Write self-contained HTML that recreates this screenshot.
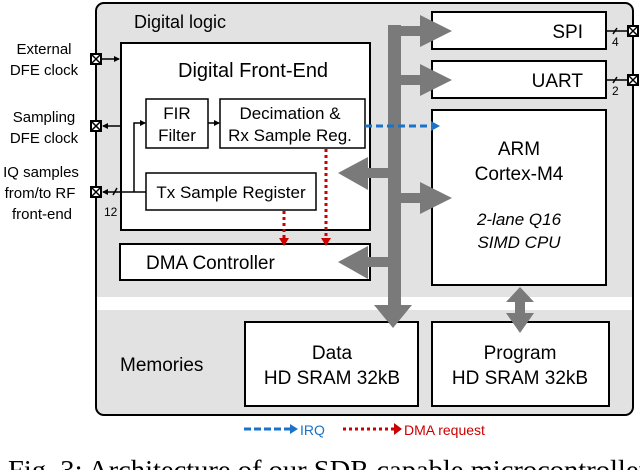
<!DOCTYPE html>
<html><head><style>
body{margin:0;background:#fff;}
svg{display:block;font-family:"Liberation Sans",sans-serif;}
</style></head><body>
<svg width="640" height="470" viewBox="0 0 640 470" xmlns="http://www.w3.org/2000/svg">
<defs>
<marker id="ah" markerWidth="6" markerHeight="6" refX="5" refY="3" orient="auto" markerUnits="userSpaceOnUse"><path d="M0,0 L6,3 L0,6 z" fill="#000"/></marker>
</defs>
<rect x="96" y="3" width="537" height="412" rx="8" fill="#e2e2e2" stroke="#000" stroke-width="2"/>
<rect x="97" y="297" width="535" height="13" fill="#fff"/>
<text x="134" y="28" font-size="18">Digital logic</text>
<text x="120" y="371" font-size="19">Memories</text>
<!-- DFE -->
<rect x="121" y="43" width="249" height="187" fill="#fff" stroke="#000" stroke-width="2"/>
<text x="178" y="77" font-size="20">Digital Front-End</text>
<rect x="146" y="99" width="62" height="49" fill="#fff" stroke="#000" stroke-width="1.5"/>
<text x="177" y="119" font-size="17" text-anchor="middle">FIR</text>
<text x="177" y="141" font-size="17" text-anchor="middle">Filter</text>
<rect x="220" y="99" width="145" height="49" fill="#fff" stroke="#000" stroke-width="1.5"/>
<text x="290" y="119" font-size="17" text-anchor="middle">Decimation &amp;</text>
<text x="290" y="141" font-size="17" text-anchor="middle">Rx Sample Reg.</text>
<rect x="146" y="173" width="170" height="37" fill="#fff" stroke="#000" stroke-width="1.5"/>
<text x="231" y="198" font-size="17" text-anchor="middle">Tx Sample Register</text>
<rect x="120" y="244" width="250" height="36" fill="#fff" stroke="#000" stroke-width="2"/>
<text x="146" y="269" font-size="19">DMA Controller</text>
<!-- right -->
<rect x="432" y="12" width="174" height="37" fill="#fff" stroke="#000" stroke-width="2"/>
<text x="583" y="38" font-size="19" text-anchor="end">SPI</text>
<rect x="432" y="61" width="174" height="37" fill="#fff" stroke="#000" stroke-width="2"/>
<text x="583" y="87" font-size="19" text-anchor="end">UART</text>
<rect x="432" y="110" width="174" height="175" fill="#fff" stroke="#000" stroke-width="2"/>
<text x="519" y="155" font-size="19" text-anchor="middle">ARM</text>
<text x="519" y="180" font-size="19" text-anchor="middle">Cortex-M4</text>
<text x="519" y="225" font-size="17" font-style="italic" text-anchor="middle">2-lane Q16</text>
<text x="519" y="248" font-size="17" font-style="italic" text-anchor="middle">SIMD CPU</text>
<rect x="245" y="322" width="173" height="84" fill="#fff" stroke="#000" stroke-width="2"/>
<text x="332" y="359" font-size="19" text-anchor="middle">Data</text>
<text x="332" y="384" font-size="19" text-anchor="middle">HD SRAM 32kB</text>
<rect x="432" y="322" width="177" height="84" fill="#fff" stroke="#000" stroke-width="2"/>
<text x="520" y="359" font-size="19" text-anchor="middle">Program</text>
<text x="520" y="384" font-size="19" text-anchor="middle">HD SRAM 32kB</text>
<!-- bus -->
<g fill="#7a7a7a">
<rect x="388" y="25" width="13" height="282"/>
<rect x="401" y="26" width="20" height="10"/>
<path d="M420,15 L452,31 L420,47 z"/>
<rect x="401" y="75" width="20" height="10"/>
<path d="M420,64 L452,80 L420,96 z"/>
<rect x="401" y="193" width="20" height="10"/>
<path d="M420,182 L452,198 L420,214 z"/>
<rect x="366" y="168" width="22" height="10"/>
<path d="M368,157 L338,173 L368,190 z"/>
<rect x="366" y="257" width="22" height="10"/>
<path d="M368,246 L338,262 L368,279 z"/>
<path d="M374,305 L412,305 L393,328 z"/>
<rect x="515" y="300" width="10" height="16"/>
<path d="M506,302 L534,302 L520,287 z"/>
<path d="M506,313 L534,313 L520,333 z"/>
</g>
<!-- IRQ & DMA req -->
<line x1="365" y1="126" x2="432" y2="126" stroke="#1a73c8" stroke-width="3" stroke-dasharray="7,4"/>
<path d="M431,121 L440,126 L431,131 z" fill="#1a73c8"/>
<line x1="326" y1="149" x2="326" y2="239" stroke="#c00" stroke-width="3" stroke-dasharray="3,3"/>
<path d="M321,238 L326,246 L331,238 z" fill="#c00"/>
<line x1="284" y1="211" x2="284" y2="239" stroke="#c00" stroke-width="3" stroke-dasharray="3,3"/>
<path d="M279,238 L284,246 L289,238 z" fill="#c00"/>
<!-- wires -->
<g stroke="#000" stroke-width="1.5" fill="none">
<line x1="102" y1="59" x2="119" y2="59" marker-end="url(#ah)"/>
<line x1="121" y1="126" x2="103" y2="126" marker-end="url(#ah)"/>
<line x1="146" y1="192" x2="103" y2="192" marker-end="url(#ah)"/>
<polyline points="134,192 134,123 145,123" marker-end="url(#ah)"/>
<line x1="208" y1="123" x2="219" y2="123" marker-end="url(#ah)"/>
<line x1="113" y1="195" x2="117" y2="188"/>
<line x1="606" y1="31" x2="627" y2="31"/>
<line x1="613" y1="34" x2="617" y2="28"/>
<line x1="606" y1="80" x2="627" y2="80"/>
<line x1="613" y1="83" x2="617" y2="77"/>
</g>
<text x="104" y="216" font-size="12">12</text>
<text x="612" y="46" font-size="12">4</text>
<text x="612" y="95" font-size="12">2</text>
<!-- pins -->
<g stroke="#000" stroke-width="1.5">
<g transform="translate(91,54)"><rect width="10" height="10" fill="#fff" stroke-width="2"/><path d="M0,0L10,10M10,0L0,10"/></g>
<g transform="translate(91,121)"><rect width="10" height="10" fill="#fff" stroke-width="2"/><path d="M0,0L10,10M10,0L0,10"/></g>
<g transform="translate(91,187)"><rect width="10" height="10" fill="#fff" stroke-width="2"/><path d="M0,0L10,10M10,0L0,10"/></g>
<g transform="translate(628,26)"><rect width="10" height="10" fill="#fff" stroke-width="2"/><path d="M0,0L10,10M10,0L0,10"/></g>
<g transform="translate(628,75)"><rect width="10" height="10" fill="#fff" stroke-width="2"/><path d="M0,0L10,10M10,0L0,10"/></g>
</g>
<g font-size="15" text-anchor="middle">
<text x="44" y="54">External</text>
<text x="44" y="75">DFE clock</text>
<text x="44" y="122">Sampling</text>
<text x="44" y="143">DFE clock</text>
<text x="41" y="177">IQ samples</text>
<text x="40" y="198">from/to RF</text>
<text x="42" y="219">front-end</text>
</g>
<!-- legend -->
<line x1="244" y1="429" x2="291" y2="429" stroke="#1a73c8" stroke-width="3" stroke-dasharray="7,3"/>
<path d="M290,424 L298,429 L290,434 z" fill="#1a73c8"/>
<text x="300" y="435" font-size="14" fill="#1a73c8">IRQ</text>
<line x1="343" y1="429" x2="394" y2="429" stroke="#c00" stroke-width="3" stroke-dasharray="3,3"/>
<path d="M394,423 L402,429 L394,435 z" fill="#c00"/>
<text x="404" y="435" font-size="14" fill="#c00">DMA request</text>
<text x="8" y="479" font-size="27" textLength="640" lengthAdjust="spacingAndGlyphs" font-family="Liberation Serif,serif">Fig. 3: Architecture of our SDR capable microcontroller</text>
</svg>
</body></html>
